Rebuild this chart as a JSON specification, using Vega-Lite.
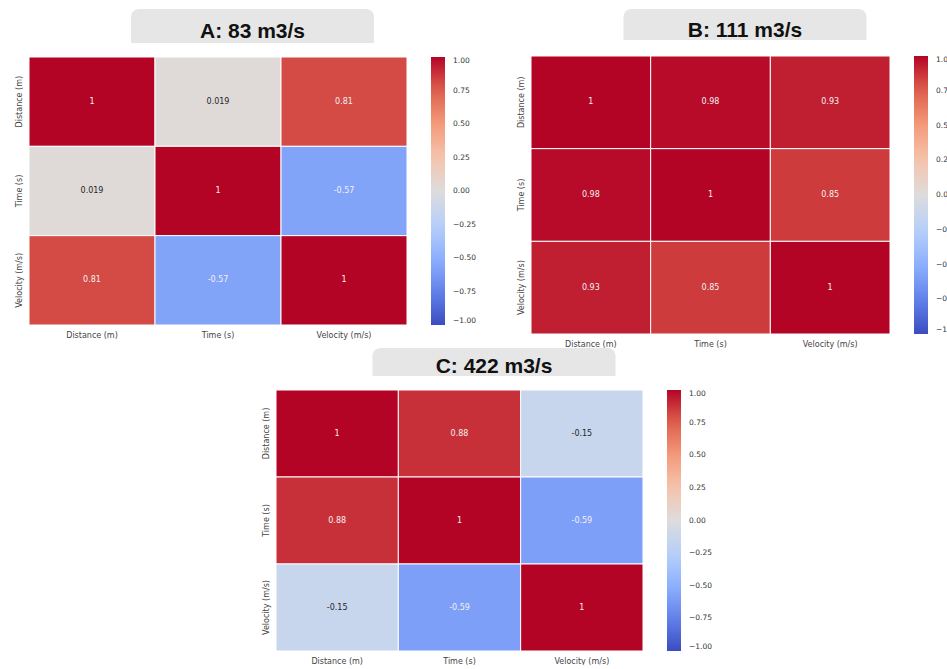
{
  "$schema": "https://vega.github.io/schema/vega-lite/v6.json",
  "background": "white",
  "padding": {"left": 14, "top": 9, "right": 0, "bottom": 0},
  "config": {
    "view": {"stroke": null},
    "axis": {"labelFont": "DejaVu Sans", "labelFontSize": 8, "labelColor": "#444444", "domain": false, "ticks": false, "title": null, "labelPadding": 6},
    "legend": {"labelFont": "DejaVu Sans", "labelFontSize": 7.5, "labelColor": "#333333"}
  },
  "spacing": 0,
  "center": true,
  "resolve": {"scale": {"color": "independent"}, "legend": {"color": "independent"}},
  "vconcat": [
    {
      "spacing": 40,
      "resolve": {"scale": {"color": "independent"}, "legend": {"color": "independent"}},
      "hconcat": [
        {
          "spacing": 13,
          "center": true,
          "resolve": {"scale": {"color": "independent"}, "legend": {"color": "independent"}},
          "vconcat": [
            {
              "width": 243, "height": 34,
              "data": {"values": [{"t": "A: 83 m3/s"}]},
              "layer": [
                {"mark": {"type": "rect", "color": "#e6e6e6", "cornerRadiusTopLeft": 8, "cornerRadiusTopRight": 8}, "encoding": {}},
                {"mark": {"type": "text", "fontSize": 21, "fontWeight": "bold", "font": "Liberation Sans", "dy": 6, "color": "#111111"}, "encoding": {"text": {"field": "t", "type": "nominal"}}}
              ]
            },
            {
              "width": 378, "height": 268,
              "data": {"values": [
                {"row": "Distance (m)", "col": "Distance (m)", "v": 1},
                {"row": "Distance (m)", "col": "Time (s)", "v": 0.019},
                {"row": "Distance (m)", "col": "Velocity (m/s)", "v": 0.81},
                {"row": "Time (s)", "col": "Distance (m)", "v": 0.019},
                {"row": "Time (s)", "col": "Time (s)", "v": 1},
                {"row": "Time (s)", "col": "Velocity (m/s)", "v": -0.57},
                {"row": "Velocity (m/s)", "col": "Distance (m)", "v": 0.81},
                {"row": "Velocity (m/s)", "col": "Time (s)", "v": -0.57},
                {"row": "Velocity (m/s)", "col": "Velocity (m/s)", "v": 1}
              ]},
              "encoding": {
                "x": {"field": "col", "type": "nominal", "sort": ["Distance (m)", "Time (s)", "Velocity (m/s)"], "axis": {"labelAngle": 0}},
                "y": {"field": "row", "type": "nominal", "sort": ["Distance (m)", "Time (s)", "Velocity (m/s)"], "axis": {"labelAngle": -90}}
              },
              "layer": [
                {"mark": {"type": "rect", "stroke": "white", "strokeWidth": 1},
                 "encoding": {"color": {"field": "v", "type": "quantitative",
                   "scale": {"domain": [-1, -0.75, -0.5, -0.25, 0, 0.25, 0.5, 0.75, 1], "range": ["#3b4cc0", "#6282ea", "#8db0fe", "#b8d0f9", "#dddcdc", "#f5c4ac", "#f49a7b", "#de604d", "#b40426"], "interpolate": "rgb"},
                   "legend": {"title": null, "gradientLength": 268, "gradientThickness": 14, "values": [-1, -0.75, -0.5, -0.25, 0, 0.25, 0.5, 0.75, 1], "format": ".2f", "offset": 24, "labelOffset": 8, "labelBaseline": "middle", "gradientStrokeWidth": 0, "direction": "vertical"}}}},
                {"mark": {"type": "text", "fontSize": 8, "font": "DejaVu Sans"},
                 "encoding": {"text": {"field": "v", "type": "nominal"},
                   "color": {"condition": {"test": "abs(datum.v) < 0.3", "value": "#262626"}, "value": "#f2f2f2"}}}
              ]
            }
          ]
        },
        {
          "spacing": 14,
          "center": true,
          "resolve": {"scale": {"color": "independent"}, "legend": {"color": "independent"}},
          "vconcat": [
            {
              "width": 243, "height": 31,
              "data": {"values": [{"t": "B: 111 m3/s"}]},
              "layer": [
                {"mark": {"type": "rect", "color": "#e6e6e6", "cornerRadiusTopLeft": 8, "cornerRadiusTopRight": 8}, "encoding": {}},
                {"mark": {"type": "text", "fontSize": 21, "fontWeight": "bold", "font": "Liberation Sans", "dy": 6, "color": "#111111"}, "encoding": {"text": {"field": "t", "type": "nominal"}}}
              ]
            },
            {
              "width": 359, "height": 278,
              "data": {"values": [
                {"row": "Distance (m)", "col": "Distance (m)", "v": 1},
                {"row": "Distance (m)", "col": "Time (s)", "v": 0.98},
                {"row": "Distance (m)", "col": "Velocity (m/s)", "v": 0.93},
                {"row": "Time (s)", "col": "Distance (m)", "v": 0.98},
                {"row": "Time (s)", "col": "Time (s)", "v": 1},
                {"row": "Time (s)", "col": "Velocity (m/s)", "v": 0.85},
                {"row": "Velocity (m/s)", "col": "Distance (m)", "v": 0.93},
                {"row": "Velocity (m/s)", "col": "Time (s)", "v": 0.85},
                {"row": "Velocity (m/s)", "col": "Velocity (m/s)", "v": 1}
              ]},
              "encoding": {
                "x": {"field": "col", "type": "nominal", "sort": ["Distance (m)", "Time (s)", "Velocity (m/s)"], "axis": {"labelAngle": 0}},
                "y": {"field": "row", "type": "nominal", "sort": ["Distance (m)", "Time (s)", "Velocity (m/s)"], "axis": {"labelAngle": -90}}
              },
              "layer": [
                {"mark": {"type": "rect", "stroke": "white", "strokeWidth": 1},
                 "encoding": {"color": {"field": "v", "type": "quantitative",
                   "scale": {"domain": [-1, -0.75, -0.5, -0.25, 0, 0.25, 0.5, 0.75, 1], "range": ["#3b4cc0", "#6282ea", "#8db0fe", "#b8d0f9", "#dddcdc", "#f5c4ac", "#f49a7b", "#de604d", "#b40426"], "interpolate": "rgb"},
                   "legend": {"title": null, "gradientLength": 278, "gradientThickness": 14, "values": [-1, -0.75, -0.5, -0.25, 0, 0.25, 0.5, 0.75, 1], "format": ".2f", "offset": 24, "labelOffset": 8, "labelBaseline": "middle", "gradientStrokeWidth": 0, "direction": "vertical"}}}},
                {"mark": {"type": "text", "fontSize": 8, "font": "DejaVu Sans"},
                 "encoding": {"text": {"field": "v", "type": "nominal"},
                   "color": {"condition": {"test": "abs(datum.v) < 0.3", "value": "#262626"}, "value": "#f2f2f2"}}}
              ]
            }
          ]
        }
      ]
    },
    {
      "spacing": 12,
      "center": true,
      "resolve": {"scale": {"color": "independent"}, "legend": {"color": "independent"}},
      "vconcat": [
        {
          "width": 243, "height": 28,
          "data": {"values": [{"t": "C: 422 m3/s"}]},
          "layer": [
            {"mark": {"type": "rect", "color": "#e6e6e6", "cornerRadiusTopLeft": 8, "cornerRadiusTopRight": 8}, "encoding": {}},
            {"mark": {"type": "text", "fontSize": 21, "fontWeight": "bold", "font": "Liberation Sans", "dy": 5, "color": "#111111"}, "encoding": {"text": {"field": "t", "type": "nominal"}}}
          ]
        },
        {
          "width": 367, "height": 261,
          "data": {"values": [
            {"row": "Distance (m)", "col": "Distance (m)", "v": 1},
            {"row": "Distance (m)", "col": "Time (s)", "v": 0.88},
            {"row": "Distance (m)", "col": "Velocity (m/s)", "v": -0.15},
            {"row": "Time (s)", "col": "Distance (m)", "v": 0.88},
            {"row": "Time (s)", "col": "Time (s)", "v": 1},
            {"row": "Time (s)", "col": "Velocity (m/s)", "v": -0.59},
            {"row": "Velocity (m/s)", "col": "Distance (m)", "v": -0.15},
            {"row": "Velocity (m/s)", "col": "Time (s)", "v": -0.59},
            {"row": "Velocity (m/s)", "col": "Velocity (m/s)", "v": 1}
          ]},
          "encoding": {
            "x": {"field": "col", "type": "nominal", "sort": ["Distance (m)", "Time (s)", "Velocity (m/s)"], "axis": {"labelAngle": 0}},
            "y": {"field": "row", "type": "nominal", "sort": ["Distance (m)", "Time (s)", "Velocity (m/s)"], "axis": {"labelAngle": -90}}
          },
          "layer": [
            {"mark": {"type": "rect", "stroke": "white", "strokeWidth": 1},
             "encoding": {"color": {"field": "v", "type": "quantitative",
               "scale": {"domain": [-1, -0.75, -0.5, -0.25, 0, 0.25, 0.5, 0.75, 1], "range": ["#3b4cc0", "#6282ea", "#8db0fe", "#b8d0f9", "#dddcdc", "#f5c4ac", "#f49a7b", "#de604d", "#b40426"], "interpolate": "rgb"},
               "legend": {"title": null, "gradientLength": 261, "gradientThickness": 14, "values": [-1, -0.75, -0.5, -0.25, 0, 0.25, 0.5, 0.75, 1], "format": ".2f", "offset": 24, "labelOffset": 8, "labelBaseline": "middle", "gradientStrokeWidth": 0, "direction": "vertical"}}}},
            {"mark": {"type": "text", "fontSize": 8, "font": "DejaVu Sans"},
             "encoding": {"text": {"field": "v", "type": "nominal"},
               "color": {"condition": {"test": "abs(datum.v) < 0.3", "value": "#262626"}, "value": "#f2f2f2"}}}
          ]
        }
      ]
    }
  ]
}
